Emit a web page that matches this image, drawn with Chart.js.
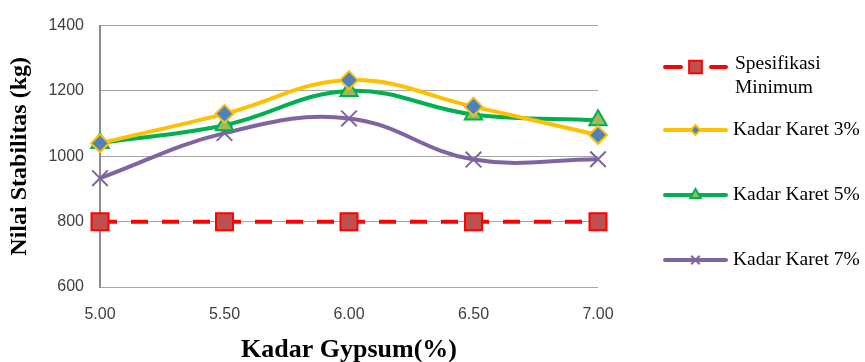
<!DOCTYPE html>
<html>
<head>
<meta charset="utf-8">
<script src="https://cdn.jsdelivr.net/npm/chart.js@4/dist/chart.umd.min.js"></script>
<style>
  html, body { margin: 0; padding: 0; background: #fff; }
  #wrap { width: 865px; height: 362px; position: relative; }
</style>
</head>
<body>
<div id="wrap"><canvas id="stabChart"></canvas></div>
<script>
// data
const kadarGypsum = [5.0, 5.5, 6.0, 6.5, 7.0];
const spesifikasi = [800, 800, 800, 800, 800];
const karet3 = [1040, 1130, 1233, 1152, 1065];
const karet5 = [1041, 1095, 1200, 1128, 1110];
const karet7 = [933, 1071, 1116, 990, 991];
const seriesLabels = [['Spesifikasi', 'Minimum'], ['Kadar Karet 3%'], ['Kadar Karet 5%'], ['Kadar Karet 7%']];

const toXY = (arr) => arr.map((v, i) => ({ x: kadarGypsum[i], y: v }));

const ctx = document.getElementById('stabChart').getContext('2d');

// legend kustom: garis + penanda di tengah, teks di kanan
const sideLegend = {
    id: 'sideLegend',
    afterDraw(chart) {
        const c = chart.ctx;
        const rows = [67, 130, 195, 260];
        chart.data.datasets.forEach((ds, i) => {
            const y = rows[i];
            const x0 = 663, x1 = 728, xm = (x0 + x1) / 2;
            c.save();
            c.strokeStyle = ds.borderColor;
            c.lineWidth = ds.borderWidth;
            c.lineCap = 'round';
            c.setLineDash(ds.legendDash || []);
            c.beginPath();
            c.moveTo(x0 + 2, y);
            c.lineTo(x1 - 2, y);
            c.stroke();
            c.restore();
            c.save();
            c.fillStyle = ds.pointBackgroundColor;
            c.strokeStyle = ds.pointBorderColor;
            c.lineWidth = ds.pointBorderWidth;
            Chart.helpers.drawPoint(c, {
                pointStyle: ds.pointStyle,
                radius: ds.legendRadius,
                borderWidth: ds.pointBorderWidth
            }, xm, y);
            c.restore();
            c.save();
            c.fillStyle = '#000';
            c.font = '19.5px "Liberation Serif"';
            c.textBaseline = 'middle';
            const lines = seriesLabels[i];
            if (lines.length === 2) {
                c.fillText(lines[0], 735, y - 3);
                c.fillText(lines[1], 735, y + 21);
            } else {
                c.fillText(lines[0], 733, y);
            }
            c.restore();
        });
    }
};

new Chart(ctx, {
    type: 'line',
    data: {
        datasets: [
            {
                label: 'Spesifikasi Minimum',
                data: toXY(spesifikasi),
                borderColor: '#ff0000',
                borderWidth: 4,
                borderDash: [17, 14],
                legendDash: [16, 30],
                tension: 0,
                pointStyle: 'rect',
                pointRadius: 12,
                legendRadius: 9,
                pointBackgroundColor: '#c0504d',
                pointBorderColor: '#ff0000',
                pointBorderWidth: 2
            },
            {
                label: 'Kadar Karet 3%',
                data: toXY(karet3),
                borderColor: '#ffc000',
                borderWidth: 4,
                tension: 0.4,
                pointStyle: 'rectRot',
                pointRadius: 9,
                legendRadius: 5,
                pointBackgroundColor: '#4f81bd',
                pointBorderColor: '#ffc000',
                pointBorderWidth: 2
            },
            {
                label: 'Kadar Karet 5%',
                data: toXY(karet5),
                borderColor: '#00b050',
                borderWidth: 4,
                tension: 0.4,
                pointStyle: 'triangle',
                pointRadius: 10,
                legendRadius: 6,
                pointBackgroundColor: '#9bbb59',
                pointBorderColor: '#00b050',
                pointBorderWidth: 2
            },
            {
                label: 'Kadar Karet 7%',
                data: toXY(karet7),
                borderColor: '#8064a2',
                borderWidth: 4,
                tension: 0.4,
                pointStyle: 'crossRot',
                pointRadius: 11,
                legendRadius: 6,
                pointBackgroundColor: '#8064a2',
                pointBorderColor: '#8064a2',
                pointBorderWidth: 2
            }
        ]
    },
    options: {
        responsive: true,
        maintainAspectRatio: false,
        animation: false,
        clip: false,
        layout: { padding: { left: 0, right: 267, top: 17, bottom: 0 } },
        plugins: {
            legend: { display: false },
            tooltip: { enabled: false }
        },
        scales: {
            x: {
                type: 'linear',
                min: 5,
                max: 7,
                afterFit(s) { s.height = 75; },
                afterBuildTicks(s) { s.ticks = kadarGypsum.map(v => ({ value: v })); },
                ticks: {
                    callback: (v) => v.toFixed(2),
                    color: '#404040',
                    font: { family: '"Liberation Sans"', size: 16 },
                    padding: 10,
                    maxRotation: 0
                },
                grid: { display: false },
                border: { display: false },
                title: {
                    display: true,
                    text: 'Kadar Gypsum(%)',
                    color: '#000',
                    font: { family: '"Liberation Serif"', size: 26, weight: 'bold' },
                    padding: { top: 4, bottom: -4 }
                }
            },
            y: {
                min: 600,
                max: 1400,
                afterFit(s) { s.width = 100; },
                ticks: {
                    stepSize: 200,
                    callback: (v) => String(v),
                    color: '#404040',
                    font: { family: '"Liberation Sans"', size: 16 },
                    padding: 16
                },
                grid: { color: '#a6a6a6', lineWidth: 1, drawTicks: false },
                border: { display: true, color: '#8c8c8c', width: 2 },
                title: {
                    display: true,
                    text: 'Nilai Stabilitas (kg)',
                    color: '#000',
                    font: { family: '"Liberation Serif"', size: 24, weight: 'bold' },
                    padding: { top: 5, bottom: 4 }
                }
            }
        }
    },
    plugins: [sideLegend]
});
</script>
</body>
</html>
